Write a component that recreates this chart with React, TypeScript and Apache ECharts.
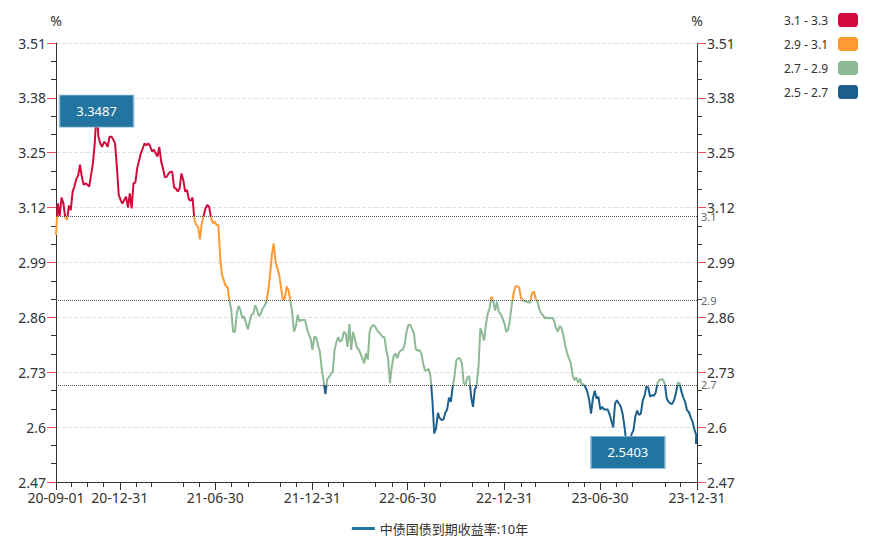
import React, { useEffect, useRef } from "react";
import * as echarts from "echarts";

const seriesName = "中债国债到期收益率:10年";
const startDate = "2020-09-01";
const endDate = "2023-12-31";
const sampleStepDays = 3.5;
// twice-weekly readings of the 10Y yield (%), starting 2020-09-01
const yields = [
  3.055, 3.13, 3.1, 3.144, 3.13, 3.097, 3.091, 3.125, 3.114, 3.158,
  3.17, 3.188, 3.196, 3.222, 3.193, 3.174, 3.178, 3.174, 3.17, 3.197,
  3.225, 3.272, 3.3487, 3.288, 3.272, 3.264, 3.276, 3.272, 3.264, 3.288,
  3.288, 3.282, 3.272, 3.217, 3.15, 3.138, 3.13, 3.138, 3.146, 3.12,
  3.154, 3.118, 3.178, 3.179, 3.213, 3.231, 3.249, 3.26, 3.272, 3.268,
  3.272, 3.266, 3.253, 3.257, 3.249, 3.241, 3.264, 3.229, 3.213, 3.192,
  3.193, 3.201, 3.205, 3.205, 3.168, 3.165, 3.158, 3.166, 3.201, 3.185,
  3.158, 3.162, 3.14, 3.136, 3.144, 3.091, 3.079, 3.075, 3.045, 3.083,
  3.1, 3.118, 3.126, 3.122, 3.097, 3.083, 3.087, 3.079, 3.079, 3.0,
  2.96, 2.947, 2.934, 2.931, 2.901, 2.877, 2.826, 2.826, 2.869, 2.887,
  2.877, 2.858, 2.862, 2.846, 2.832, 2.85, 2.866, 2.869, 2.889, 2.877,
  2.863, 2.868, 2.881, 2.887, 2.897, 2.923, 2.96, 3.008, 3.035, 2.992,
  2.976, 2.96, 2.929, 2.901, 2.905, 2.933, 2.925, 2.901, 2.873, 2.826,
  2.838, 2.866, 2.85, 2.854, 2.854, 2.854, 2.834, 2.82, 2.81, 2.783,
  2.814, 2.813, 2.794, 2.779, 2.739, 2.711, 2.678, 2.713, 2.719, 2.726,
  2.731, 2.783, 2.802, 2.813, 2.802, 2.806, 2.826, 2.822, 2.79, 2.844,
  2.783, 2.826, 2.808, 2.79, 2.784, 2.775, 2.763, 2.751, 2.775, 2.76,
  2.826, 2.838, 2.842, 2.838, 2.83, 2.824, 2.82, 2.814, 2.813, 2.783,
  2.763, 2.704, 2.743, 2.768, 2.775, 2.763, 2.777, 2.782, 2.783, 2.797,
  2.826, 2.842, 2.842, 2.832, 2.822, 2.785, 2.781, 2.783, 2.775, 2.751,
  2.734, 2.735, 2.738, 2.719, 2.664, 2.585, 2.597, 2.634, 2.621, 2.617,
  2.618, 2.634, 2.642, 2.67, 2.66, 2.696, 2.721, 2.759, 2.763, 2.763,
  2.751, 2.704, 2.701, 2.718, 2.721, 2.672, 2.648, 2.688, 2.7, 2.743,
  2.834, 2.822, 2.805, 2.842, 2.869, 2.881, 2.909, 2.897, 2.876, 2.897,
  2.873, 2.868, 2.858, 2.846, 2.826, 2.83, 2.853, 2.889, 2.917, 2.933,
  2.934, 2.931, 2.907, 2.9, 2.899, 2.897, 2.896, 2.895, 2.917, 2.921,
  2.905, 2.897, 2.879, 2.869, 2.865, 2.857, 2.86, 2.858, 2.858, 2.859,
  2.852, 2.834, 2.826, 2.84, 2.834, 2.818, 2.794, 2.776, 2.763, 2.753,
  2.723, 2.711, 2.718, 2.705, 2.715, 2.7, 2.702, 2.694, 2.684, 2.664,
  2.632, 2.668, 2.686, 2.668, 2.672, 2.642, 2.648, 2.642, 2.642, 2.642,
  2.631, 2.615, 2.599, 2.656, 2.664, 2.656, 2.65, 2.634, 2.605, 2.569,
  2.5403, 2.561, 2.584, 2.593, 2.625, 2.639, 2.629, 2.632, 2.663, 2.674,
  2.696, 2.694, 2.672, 2.676, 2.674, 2.681, 2.704, 2.711, 2.713, 2.713,
  2.702, 2.668, 2.66, 2.656, 2.655, 2.664, 2.68, 2.705, 2.704, 2.684,
  2.67, 2.66, 2.64, 2.636, 2.623, 2.613, 2.595, 2.581,
];
const lastDate = "2023-12-29";
const lastYield = 2.56;

const labelDates = [
  "2020-09-01", "2020-12-31", "2021-06-30", "2021-12-31",
  "2022-06-30", "2022-12-31", "2023-06-30", "2023-12-31",
];
const minorTickDates = [
  "2020-09-30", "2020-10-31", "2020-11-30",
  "2021-01-31", "2021-02-28", "2021-04-30", "2021-05-31", "2021-07-31", "2021-08-31", "2021-10-31", "2021-11-30",
  "2022-01-31", "2022-02-28", "2022-04-30", "2022-05-31", "2022-07-31", "2022-08-31", "2022-10-31", "2022-11-30",
  "2023-01-31", "2023-02-28", "2023-04-30", "2023-05-31", "2023-07-31", "2023-08-31", "2023-10-31", "2023-11-30",
];
const yMin = 2.47;
const yMax = 3.51;
const yInterval = 0.13;
const thresholdLines = [3.1, 2.9, 2.7];
const pieces = [
  { lte: 2.7, label: "2.5 - 2.7", color: "#1d608c" },
  { gt: 2.7, lte: 2.9, label: "2.7 - 2.9", color: "#8dba95" },
  { gt: 2.9, lte: 3.1, label: "2.9 - 3.1", color: "#ff9a33" },
  { gt: 3.1, label: "3.1 - 3.3", color: "#d20a3c" },
];

const FONT = "'Microsoft YaHei', 'Noto Sans', 'Noto Sans CJK SC', sans-serif";
const DAY = 86400000;

function parseDate(s: string): number {
  const [y, m, d] = s.split("-").map(Number);
  return new Date(y, m - 1, d).getTime();
}
function pad(n: number) {
  return n < 10 ? "0" + n : "" + n;
}
function fmtDate(v: number) {
  const d = new Date(v);
  return pad(d.getFullYear() % 100) + "-" + pad(d.getMonth() + 1) + "-" + pad(d.getDate());
}

function buildData() {
  const t0 = parseDate(startDate);
  const data: [number, number][] = yields.map((v, i) => [t0 + i * sampleStepDays * DAY, v]);
  data.push([parseDate(lastDate), lastYield]);
  return data;
}

function yAxisCfg(position: "left" | "right") {
  return {
    type: "value",
    position,
    min: yMin,
    max: yMax,
    interval: yInterval,
    name: "%",
    nameTextStyle: { color: "#333", fontSize: 14, fontFamily: FONT },
    nameGap: 16,
    axisLine: { show: true, lineStyle: { color: "#333", width: 1 } },
    axisTick: { show: true, length: 9, lineStyle: { color: "#e8505f", width: 1 } },
    minorTick: { show: true, splitNumber: 3, length: 5, lineStyle: { color: "#333", width: 1 } },
    axisLabel: { color: "#333", fontSize: 14, margin: 10, fontFamily: FONT },
    splitLine: { show: true, lineStyle: { color: "#e0e0e0", type: "dashed" } },
  };
}

export default function App() {
  const ref = useRef<HTMLDivElement>(null);
  useEffect(() => {
    if (!ref.current) return;
    const chart = echarts.init(ref.current, null, { renderer: "svg" });
    const tMin = parseDate(startDate);
    const tMax = parseDate(endDate);
    chart.setOption({
      animation: false,
      textStyle: { fontFamily: FONT },
      grid: { left: 56, right: 183, top: 43, bottom: 71 },
      legend: {
        bottom: 13,
        left: "center",
        icon: "rect",
        itemWidth: 23,
        itemHeight: 3,
        itemGap: 10,
        textStyle: { color: "#333", fontSize: 13, fontFamily: FONT },
        data: [seriesName],
      },
      visualMap: {
        type: "piecewise",
        seriesIndex: 0,
        dimension: 1,
        orient: "vertical",
        right: 7,
        top: -2,
        align: "right",
        itemWidth: 20,
        itemHeight: 14,
        itemGap: 10,
        textGap: 10,
        textStyle: { color: "#333", fontSize: 12, fontFamily: FONT },
        pieces,
      },
      xAxis: [
        {
          type: "value",
          min: tMin,
          max: tMax,
          axisLine: { show: true, lineStyle: { color: "#333" } },
          axisTick: {
            show: true,
            length: 8,
            customValues: labelDates.map(parseDate),
            lineStyle: { color: "#333" },
          },
          axisLabel: {
            color: "#333",
            fontSize: 14,
            margin: 8,
            fontFamily: FONT,
            customValues: labelDates.map(parseDate),
            formatter: (v: number) => fmtDate(v),
          },
          splitLine: { show: false },
        },
        {
          type: "value",
          min: tMin,
          max: tMax,
          position: "bottom",
          axisLine: { show: false },
          axisTick: {
            show: true,
            length: 5,
            customValues: minorTickDates.map(parseDate),
            lineStyle: { color: "#333" },
          },
          axisLabel: { show: false },
          splitLine: { show: false },
        },
      ],
      yAxis: [yAxisCfg("left"), yAxisCfg("right")],
      series: [
        {
          name: seriesName,
          type: "line",
          xAxisIndex: 0,
          yAxisIndex: 0,
          showSymbol: false,
          symbol: "none",
          color: "#2175a0",
          lineStyle: { width: 2 },
          data: buildData(),
          markPoint: {
            symbol: "rect",
            symbolSize: [74, 32],
            itemStyle: { color: "#2175a0", borderColor: "#8ab8d6", borderWidth: 1 },
            label: { show: true, color: "#fff", fontSize: 13, fontFamily: FONT, formatter: "{c}" },
            data: [
              { type: "max", name: "max" },
              { type: "min", name: "min" },
            ],
          },
          markLine: {
            symbol: "none",
            silent: true,
            lineStyle: { color: "#555", type: "dotted", width: 1 },
            label: { show: true, position: "end", color: "#666", fontSize: 11, distance: 4 },
            data: thresholdLines.map((v) => ({ yAxis: v })),
          },
        },
      ],
    });
    return () => chart.dispose();
  }, []);
  return (
    <div
      ref={ref}
      style={{ position: "absolute", left: 0, top: 0, width: 880, height: 553 }}
    />
  );
}
